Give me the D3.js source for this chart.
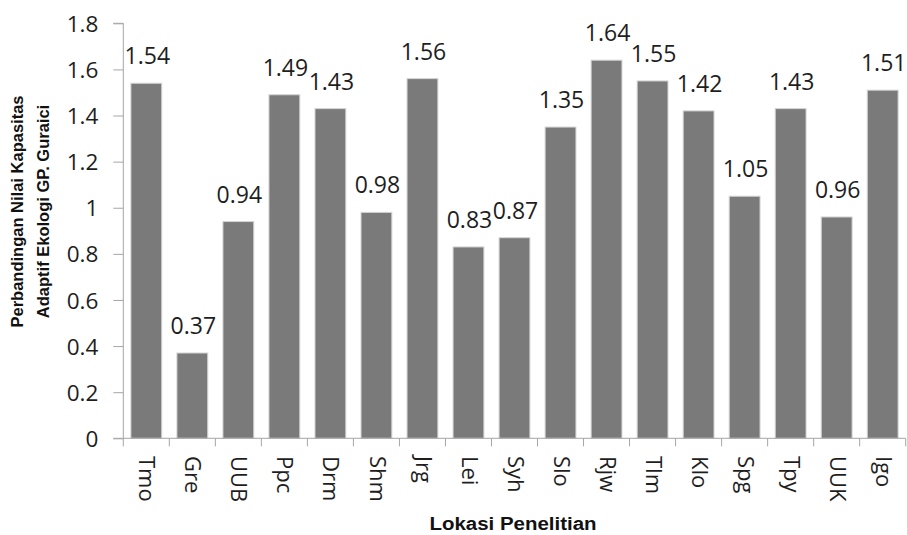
<!DOCTYPE html>
<html>
<head>
<meta charset="utf-8">
<script src="https://cdn.jsdelivr.net/npm/d3@7"></script>
<style>
  html, body { margin: 0; padding: 0; background: #fff; }
  svg { display: block; }
</style>
</head>
<body>
<div id="chart"></div>
<script>
const categories = ["Tmo","Gre","UUB","Ppc","Drm","Shm","Jrg","Lei","Syh","Slo","Rjw","Tlm","Klo","Spg","Tpy","UUK","Igo"];
const values = [1.54,0.37,0.94,1.49,1.43,0.98,1.56,0.83,0.87,1.35,1.64,1.55,1.42,1.05,1.43,0.96,1.51];
const yTicks = [0,0.2,0.4,0.6,0.8,1,1.2,1.4,1.6,1.8];
const yTitleLines = ["Perbandingan Nilai Kapasitas","Adaptif Ekologi GP. Guraici"];
const xTitle = "Lokasi Penelitian";

(function () {
const W = 907, H = 535;
const pLeft = 123.3, pRight = 905.7, pTop = 23.3, pBottom = 438.3;

const svg = d3.select("#chart").append("svg").attr("width", W).attr("height", H);

const x = d3.scaleBand().domain(categories).range([pLeft, pRight]).paddingInner(0.33).paddingOuter(0.165);
const y = d3.scaleLinear().domain([0, 1.8]).range([pBottom, pTop]);

const axisColor = "#a6a6a6";
const numFont = "'Open Sans', sans-serif";
const titleFont = "'Liberation Sans', Arial, sans-serif";
const txtColor = "#1e1e1e";

// bars
svg.append("g").selectAll("rect").data(values).join("rect")
  .attr("x", (d,i) => x(categories[i]))
  .attr("y", d => y(d))
  .attr("width", x.bandwidth())
  .attr("height", d => y(0) - y(d))
  .attr("fill", "#7a7a7a")
  .attr("stroke", "#d4d4d4")
  .attr("stroke-width", 1);

// data labels
svg.append("g").selectAll("text").data(values).join("text")
  .attr("x", (d,i) => x(categories[i]) + x.bandwidth()/2 + 1)
  .attr("y", d => y(d) - 19)
  .attr("text-anchor", "middle")
  .attr("font-family", numFont)
  .attr("font-size", 23)
  .attr("fill", txtColor)
  .text(d => d.toFixed(2));

// y axis
const yAxis = d3.axisLeft(y).tickValues(yTicks).tickSize(10).tickPadding(15)
  .tickFormat(d => String(+d.toFixed(1)));
const gy = svg.append("g").attr("transform", `translate(${pLeft},0)`).call(yAxis);
gy.select(".domain").attr("stroke", axisColor).attr("d", `M-10,${pTop}H0V${pBottom}`);
gy.selectAll(".tick line").attr("stroke", axisColor);
gy.selectAll(".tick text").attr("font-family", numFont).attr("font-size", 22.5).attr("fill", txtColor)
  .attr("dy", "0.36em");

// x axis line and boundary ticks
const gx = svg.append("g");
gx.append("line").attr("x1", pLeft - 10).attr("x2", pRight).attr("y1", pBottom).attr("y2", pBottom)
  .attr("stroke", axisColor);
const bounds = d3.range(categories.length + 1).map(i => x.range()[0] + i * x.step());
gx.selectAll("line.tk").data(bounds).join("line").attr("class", "tk")
  .attr("x1", d => d).attr("x2", d => d)
  .attr("y1", pBottom).attr("y2", pBottom + 8)
  .attr("stroke", axisColor);

// x labels rotated
svg.append("g").selectAll("text").data(categories).join("text")
  .attr("transform", d => `translate(${x(d) + x.bandwidth()/2 + 1},456) rotate(90)`)
  .attr("dy", "0.36em")
  .attr("text-anchor", "start")
  .attr("font-family", numFont)
  .attr("font-size", 22)
  .attr("fill", txtColor)
  .text(d => d);

// x title
svg.append("text")
  .attr("x", 513)
  .attr("y", 530)
  .attr("text-anchor", "middle")
  .attr("font-family", titleFont)
  .attr("font-weight", "bold")
  .attr("font-size", 18)
  .attr("textLength", 167)
  .attr("lengthAdjust", "spacingAndGlyphs")
  .attr("fill", "#111")
  .text(xTitle);

// y title
const yt = svg.append("text")
  .attr("transform", `translate(0,211.5) rotate(-90)`)
  .attr("text-anchor", "middle")
  .attr("font-family", titleFont)
  .attr("font-weight", "bold")
  .attr("font-size", 16.5)
  .attr("fill", "#111");
yTitleLines.forEach((t, i) => {
  yt.append("tspan").attr("x", 0).attr("y", 23 + i * 26).text(t);
});
})();
</script>
</body>
</html>
